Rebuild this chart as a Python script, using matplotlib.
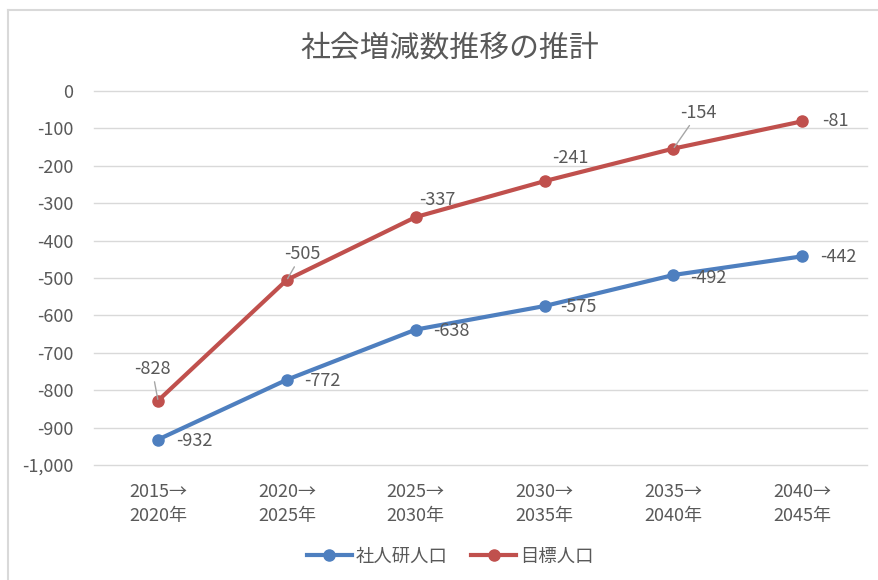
import matplotlib
matplotlib.use("Agg")
import matplotlib.pyplot as plt
from matplotlib.lines import Line2D
from matplotlib.ticker import FuncFormatter

plt.rcParams['font.family'] = ['Noto Sans CJK JP', 'DejaVu Sans']

title = "社会増減数推移の推計"
categories = ["2015→\n2020年", "2020→\n2025年", "2025→\n2030年",
              "2030→\n2035年", "2035→\n2040年", "2040→\n2045年"]
series_names = ["社人研人口", "目標人口"]
shajinken = [-932, -772, -638, -575, -492, -442]
mokuhyo = [-828, -505, -337, -241, -154, -81]
y_ticks = [0, -100, -200, -300, -400, -500, -600, -700, -800, -900, -1000]

blue = "#4E7FBF"
red = "#C0504D"
text_c = "#595959"
grid_c = "#D9D9D9"

fig = plt.figure(figsize=(8.79, 5.80), dpi=100)
ax = fig.add_axes([0.1065, 0.1983, 0.8795, 0.6448])

x = list(range(len(categories)))
ax.plot(x, shajinken, color=blue, lw=3.0, marker='o', ms=8, label=series_names[0],
        solid_capstyle='round', zorder=3)
ax.plot(x, mokuhyo, color=red, lw=3.0, marker='o', ms=8, label=series_names[1],
        solid_capstyle='round', zorder=3)

ax.set_xlim(-0.5, len(categories) - 0.5)
ax.set_ylim(-1000, 0)
ax.set_yticks(y_ticks)
ax.yaxis.set_major_formatter(FuncFormatter(lambda v, p: f"{int(v):,}"))
ax.set_xticks(x)
ax.set_xticklabels(categories, linespacing=1.4)
ax.tick_params(axis='both', length=0, colors=text_c, labelsize=13)
ax.tick_params(axis='y', pad=14.5)
ax.tick_params(axis='x', pad=13)
ax.grid(axis='y', color=grid_c, lw=1.0)
for gl in ax.get_ygridlines():
    gl.set_clip_on(False)
ax.set_axisbelow(True)
for s in ax.spines.values():
    s.set_visible(False)

# blue labels: to the right
blue_off = [(18, -1), (17, -1), (17, -1), (16, -1), (17, -3), (18, -1)]
for xi, v, (dx, dy) in zip(x, shajinken, blue_off):
    ax.annotate(f"{v:,}", (xi, v), xytext=(dx, dy), textcoords='offset pixels',
                ha='left', va='center', fontsize=13, color=text_c)

# red labels
red_off = [(-6, 32, 'center'), (15, 26, 'center'), (22, 17, 'center'),
           (26, 23, 'center'), (25, 36, 'center'), (20, 0, 'left')]
leader = [True, True, False, False, True, False]
for xi, v, (dx, dy, ha), ld in zip(x, mokuhyo, red_off, leader):
    kw = {}
    if ld:
        kw['arrowprops'] = dict(arrowstyle='-', color='#A6A6A6', lw=1.0,
                                shrinkA=1, shrinkB=1)
    ax.annotate(f"{v:,}", (xi, v), xytext=(dx, dy), textcoords='offset pixels',
                ha=ha, va='center', fontsize=13, color=text_c, zorder=4, **kw)

fig.text(0.512, 0.916, title, ha='center', va='center', fontsize=21.5, color=text_c)

handles = [Line2D([0], [0], color=blue, lw=3.0, marker='o', ms=8),
           Line2D([0], [0], color=red, lw=3.0, marker='o', ms=8)]
fig.legend(handles, series_names, loc='center', bbox_to_anchor=(0.512, 0.040),
           ncol=2, frameon=False, fontsize=13.2, labelcolor=text_c,
           handlelength=2.45, columnspacing=1.3, handletextpad=0.2)

# chart area border (top and left visible)
fig.add_artist(Line2D([8 / 879, 8 / 879], [0, 1 - 10 / 580], transform=fig.transFigure,
                      color=grid_c, lw=1.5))
fig.add_artist(Line2D([8 / 879, 1], [1 - 10 / 580, 1 - 10 / 580], transform=fig.transFigure,
                      color=grid_c, lw=1.5))

fig.savefig("out.png", dpi=100)
